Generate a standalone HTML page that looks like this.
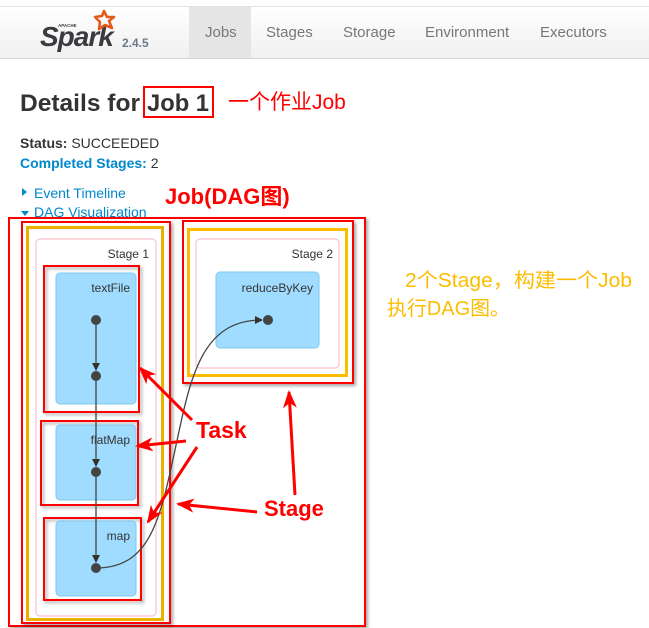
<!DOCTYPE html>
<html><head><meta charset="utf-8"><style>
html,body{margin:0;padding:0;background:#fff;width:649px;height:628px;overflow:hidden}
svg{display:block}
</style></head><body>
<svg width="649" height="628" viewBox="0 0 649 628" xmlns="http://www.w3.org/2000/svg">
<defs>
<linearGradient id="nav" x1="0" y1="0" x2="0" y2="1"><stop offset="0" stop-color="#ffffff"/><stop offset="1" stop-color="#f0f0f0"/></linearGradient>
<filter id="sh" x="-10%" y="-10%" width="120%" height="120%"><feDropShadow dx="2" dy="2" stdDeviation="1.5" flood-color="#000" flood-opacity="0.35"/></filter>
<marker id="ah" markerWidth="8" markerHeight="8" refX="7" refY="4" orient="auto" markerUnits="userSpaceOnUse"><path d="M0,0 L8,4 L0,8 z" fill="#333"/></marker>
<marker id="ra" markerWidth="18" markerHeight="14" refX="16" refY="7" orient="auto" markerUnits="userSpaceOnUse"><path d="M0,0 L18,7 L0,14 L5,7 z" fill="#f00"/></marker>
</defs>
<rect x="0" y="0" width="649" height="7" fill="#fff"/>
<line x1="0" y1="6.5" x2="649" y2="6.5" stroke="#e3e3e3"/>
<rect x="0" y="7" width="649" height="51" fill="url(#nav)"/>
<line x1="0" y1="58.5" x2="649" y2="58.5" stroke="#d4d4d4"/>
<rect x="189" y="7" width="62" height="51" fill="#e5e5e5"/>
<text x="40" y="46" font-family="Liberation Sans, sans-serif" font-size="28" font-weight="bold" font-style="italic" fill="#3c3a3e" letter-spacing="-1">Spark</text>
<text x="58" y="27" font-family="Liberation Sans, sans-serif" font-size="4.5" font-weight="bold" fill="#3c3a3e">APACHE</text>
<path d="M104,11 l3,6 l7,0 l-5,4 l3,7 l-7,-3 l-6,4 l1,-7 l-5,-5 l7,-1 z" fill="none" stroke="#e25a1c" stroke-width="2.6" stroke-linejoin="round"/>
<text x="122" y="47" font-family="Liberation Sans, sans-serif" font-size="12" font-weight="bold" fill="#6b7b8c">2.4.5</text>
<g font-family="Liberation Sans, sans-serif" font-size="15" fill="#777">
<text x="205" y="37">Jobs</text><text x="266" y="37">Stages</text><text x="343" y="37">Storage</text><text x="425" y="37">Environment</text><text x="540" y="37">Executors</text>
</g>
<g font-family="Liberation Sans, sans-serif" font-size="24" font-weight="bold" fill="#333">
<text x="20" y="111" textLength="120" lengthAdjust="spacingAndGlyphs">Details for</text>
<text x="147" y="111" textLength="62" lengthAdjust="spacingAndGlyphs">Job 1</text>
</g>
<rect x="144" y="87" width="69" height="30" fill="none" stroke="#f00" stroke-width="2"/>
<text x="228" y="109" font-family="Liberation Sans, 'Noto Sans CJK SC', sans-serif" font-size="21" fill="#f00">一个作业Job</text>
<g font-family="Liberation Sans, sans-serif" font-size="14">
<text x="20" y="148" fill="#333"><tspan font-weight="bold">Status:</tspan> SUCCEEDED</text>
<text x="20" y="168" fill="#0088cc"><tspan font-weight="bold">Completed Stages:</tspan> <tspan fill="#333">2</tspan></text>
<text x="34" y="198" fill="#0088cc">Event Timeline</text>
<text x="34" y="217" fill="#0088cc">DAG Visualization</text>
</g>
<path d="M22,188 l5,4 l-5,4 z" fill="#0088cc"/>
<path d="M21,211 l8,0 l-4,5 z" fill="#0088cc"/>
<text x="165" y="204" font-family="Liberation Sans, 'Noto Sans CJK SC', sans-serif" font-size="22" font-weight="bold" fill="#f00">Job(DAG图)</text>
<rect x="9" y="218" width="356" height="408" fill="#fff" stroke="#f00" stroke-width="2" filter="url(#sh)"/>
<rect x="22" y="222" width="148" height="401" fill="#fff" stroke="#f00" stroke-width="2" filter="url(#sh)"/>
<rect x="27.5" y="227.5" width="135" height="392" fill="#fff" stroke="#e8b100" stroke-width="3"/>
<rect x="36" y="239" width="120" height="377" rx="4" fill="#fff" stroke="#ffc0cb" stroke-width="1.2"/>
<rect x="183" y="221" width="170" height="162" fill="#fff" stroke="#f00" stroke-width="2" filter="url(#sh)"/>
<rect x="188.5" y="229.5" width="158" height="146" fill="#fff" stroke="#fcbc00" stroke-width="3"/>
<rect x="196" y="239" width="143" height="129" rx="4" fill="#fff" stroke="#ffc0cb" stroke-width="1.2"/>
<rect x="44" y="266" width="95" height="146" fill="none" stroke="#f00" stroke-width="2" filter="url(#sh)"/>
<rect x="41" y="421" width="97" height="84" fill="none" stroke="#f00" stroke-width="2" filter="url(#sh)"/>
<rect x="44" y="518" width="97" height="82" fill="none" stroke="#f00" stroke-width="2" filter="url(#sh)"/>
<g fill="#a0dcff" stroke="#7cc9f2" stroke-width="1">
<rect x="56" y="273" width="80" height="131" rx="4"/>
<rect x="56" y="425" width="80" height="75" rx="4"/>
<rect x="56" y="521" width="80" height="75" rx="4"/>
<rect x="216" y="272" width="103" height="76" rx="4"/>
</g>
<g font-family="Liberation Sans, sans-serif" font-size="12" fill="#333" text-anchor="end">
<text x="149" y="258">Stage 1</text><text x="333" y="258">Stage 2</text>
<text x="130" y="292">textFile</text><text x="130" y="444">flatMap</text><text x="130" y="540">map</text><text x="313" y="292">reduceByKey</text>
</g>
<g stroke="#444" stroke-width="1.3" fill="none">
<line x1="96" y1="320" x2="96" y2="370" marker-end="url(#ah)"/>
<line x1="96" y1="376" x2="96" y2="466" marker-end="url(#ah)"/>
<line x1="96" y1="472" x2="96" y2="562" marker-end="url(#ah)"/>
<path d="M96,568 C150,568 160,520 175,450 C190,380 200,320 262,320" marker-end="url(#ah)"/>
</g>
<g fill="#444"><circle cx="96" cy="320" r="5"/><circle cx="96" cy="376" r="5"/><circle cx="96" cy="472" r="5"/><circle cx="96" cy="568" r="5"/><circle cx="268" cy="320" r="5"/></g>
<g stroke="#f00" stroke-width="3" fill="none">
<line x1="192" y1="420" x2="140" y2="368" marker-end="url(#ra)"/>
<line x1="186" y1="441" x2="137" y2="446" marker-end="url(#ra)"/>
<line x1="197" y1="447" x2="148" y2="522" marker-end="url(#ra)"/>
<line x1="257" y1="512" x2="178" y2="504" marker-end="url(#ra)"/>
<line x1="295" y1="495" x2="289" y2="392" marker-end="url(#ra)"/>
</g>
<g font-family="Liberation Sans, sans-serif" font-size="23" font-weight="bold" fill="#f00">
<text x="196" y="438">Task</text><text x="264" y="516" font-size="22">Stage</text>
</g>
<g font-family="Liberation Sans, 'Noto Sans CJK SC', sans-serif" font-size="20" fill="#fcbc00">
<text x="405" y="287" textLength="227" lengthAdjust="spacingAndGlyphs">2个Stage，构建一个Job</text><text x="387" y="315" textLength="123" lengthAdjust="spacingAndGlyphs">执行DAG图。</text>
</g>
</svg>
</body></html>
